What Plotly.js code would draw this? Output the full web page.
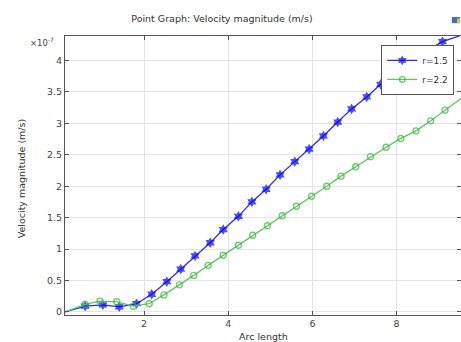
<!DOCTYPE html>
<html>
<head>
<meta charset="utf-8">
<script src="https://cdn.plot.ly/plotly-3.0.1.min.js"></script>
<style>html,body{margin:0;padding:0;background:#fff;overflow:hidden;}#chart{width:461px;height:342px;}</style>
</head>
<body>
<div id="chart"></div>
<script>
// Arc length values and velocity magnitude (×1e-7 m/s)
const blueName = "r=1.5";
const blueX = [0.12, 0.60, 1.02, 1.41, 1.82, 2.18, 2.54, 2.87, 3.21, 3.57, 3.88, 4.24, 4.56, 4.90, 5.23, 5.58, 5.92, 6.26, 6.60, 6.93, 7.29, 7.62, 7.96, 8.33, 8.71, 9.09, 9.70];
const blueY = [0.00, 0.09, 0.11, 0.08, 0.13, 0.28, 0.48, 0.68, 0.89, 1.10, 1.31, 1.52, 1.75, 1.95, 2.18, 2.39, 2.59, 2.80, 3.02, 3.23, 3.42, 3.62, 3.83, 4.00, 4.15, 4.30, 4.44];

const greenName = "r=2.2";
const greenX = [0.12, 0.60, 0.95, 1.35, 1.74, 2.12, 2.47, 2.84, 3.18, 3.52, 3.88, 4.24, 4.58, 4.93, 5.28, 5.62, 5.98, 6.34, 6.68, 7.03, 7.38, 7.75, 8.10, 8.46, 8.81, 9.15, 9.70];
const greenY = [0.00, 0.12, 0.17, 0.16, 0.09, 0.13, 0.27, 0.43, 0.58, 0.74, 0.90, 1.06, 1.22, 1.37, 1.53, 1.68, 1.84, 2.00, 2.16, 2.31, 2.47, 2.62, 2.76, 2.88, 3.04, 3.21, 3.48];

const chartTitle = "Point Graph: Velocity magnitude (m/s)";
const xTitle = "Arc length";
const yTitle = "Velocity magnitude (m/s)";
const yScaleLabel = "×10<sup>-7</sup>";

const blueSizes = blueX.map((_, i) => (i === 0 || i === blueX.length - 1) ? 0 : 8);
const greenSizes = greenX.map((_, i) => (i === 0 || i === greenX.length - 1) ? 0 : 6);

const traces = [
  {
    x: blueX, y: blueY, name: blueName, type: "scatter", mode: "lines+markers",
    line: {color: "#2a2aff", width: 1.3},
    marker: {symbol: "hexagram", size: blueSizes, color: "#0000ff", line: {width: 0}}
  },
  {
    x: greenX, y: greenY, name: greenName, type: "scatter", mode: "lines+markers",
    line: {color: "#5cc85c", width: 1.3},
    marker: {symbol: "circle-open", size: greenSizes, color: "#3cb43c", line: {width: 1.4}}
  }
];

const axisFont = {family: "DejaVu Sans, sans-serif", size: 9.5, color: "#444"};

const layout = {
  width: 461, height: 342, autosize: false,
  margin: {l: 65, r: 0, t: 36, b: 27, pad: 0},
  paper_bgcolor: "#fff", plot_bgcolor: "#fff",
  font: axisFont,
  showlegend: true,
  title: {
    text: chartTitle, xref: "container", yref: "container",
    x: 222 / 461, xanchor: "center", y: 1 - 19 / 342, yanchor: "middle",
    font: {family: "DejaVu Sans, sans-serif", size: 9.5, color: "#333"}
  },
  xaxis: {
    range: [0.12, 9.53], tick0: 0, dtick: 2, ticks: "inside", ticklen: 4, tickcolor: "#555",
    showline: true, linecolor: "#555", linewidth: 1, mirror: "ticks",
    showgrid: true, gridcolor: "#e4e4e4", zeroline: false, tickfont: axisFont
  },
  yaxis: {
    range: [-0.05, 4.39], tick0: 0, dtick: 0.5, ticks: "inside", ticklen: 4, tickcolor: "#555",
    showline: true, linecolor: "#555", linewidth: 1, mirror: "ticks",
    showgrid: true, gridcolor: "#e4e4e4", zeroline: false, tickfont: axisFont
  },
  legend: {
    x: 0.983, y: 0.968, xanchor: "right", yanchor: "top",
    bgcolor: "#fff", bordercolor: "#555", borderwidth: 1,
    font: {family: "DejaVu Sans, sans-serif", size: 9, color: "#333"},
    itemwidth: 30, tracegroupgap: 0
  },
  annotations: [
    {text: xTitle, xref: "paper", yref: "paper", x: 0.5, y: 0, yanchor: "top", yshift: -14,
     showarrow: false, font: {family: "DejaVu Sans, sans-serif", size: 9.5, color: "#333"}},
    {text: yTitle, xref: "paper", yref: "paper", x: 0, y: 0.49, xanchor: "center", xshift: -44,
     textangle: -90, showarrow: false, font: {family: "DejaVu Sans, sans-serif", size: 9.5, color: "#333"}},
    {text: yScaleLabel, xref: "paper", yref: "paper", x: 0, y: 1, xanchor: "right", yanchor: "middle",
     xshift: -9, yshift: -6, showarrow: false, font: {family: "DejaVu Sans, sans-serif", size: 8.5, color: "#444"}}
  ],
  shapes: [
    {type: "rect", xref: "paper", yref: "paper", x0: 0.977, x1: 0.997, y0: 1.046, y1: 1.068,
     fillcolor: "#3a6fd0", line: {width: 0}},
    {type: "rect", xref: "paper", yref: "paper", x0: 0.990, x1: 0.997, y0: 1.046, y1: 1.062,
     fillcolor: "#f0c020", line: {width: 0}}
  ]
};

Plotly.newPlot("chart", traces, layout, {displayModeBar: false, staticPlot: true});
</script>
</body>
</html>
